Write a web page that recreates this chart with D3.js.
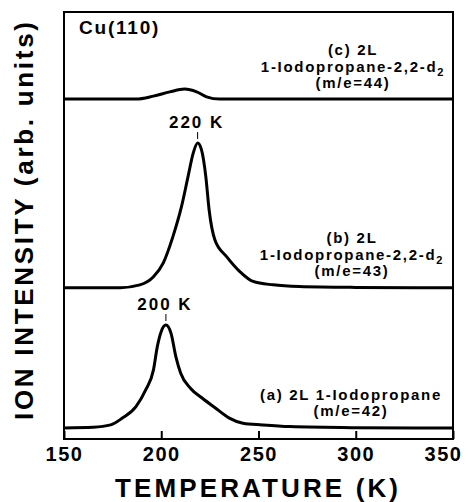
<!DOCTYPE html>
<html>
<head>
<meta charset="utf-8">
<script src="https://cdn.jsdelivr.net/npm/d3@7"></script>
<style>
  body { margin: 0; background: #fff; }
  svg text { font-family: "Liberation Sans", Arial, Helvetica, sans-serif; font-weight: bold; fill: #000; }
</style>
</head>
<body>
<div id="chart"></div>
<script>
// temperature (K) and ion intensity (arb. units)
var tempA = [150, 165, 174, 180, 187, 192, 196, 198, 200, 202.4, 205, 207.5, 210, 215, 221, 228, 235, 242, 252, 266, 300, 350];
var intA  = [0.1, 0.25, 0.8, 2.4, 5.1, 9.0, 13.7, 19.2, 22.7, 24.2, 22.3, 16.8, 12.9, 9.4, 7.1, 4.7, 2.4, 1.2, 0.8, 0.4, 0.15, 0.05];

var tempB = [150, 170, 179, 189, 196, 201, 206, 210.4, 213.8, 216.4, 218.7, 220.7, 222.9, 224.6, 227.6, 233.6, 240.4, 247.2, 257.5, 271, 300, 350];
var intB  = [0, 0.05, 0.05, 0.7, 2.6, 5.8, 12.0, 19.0, 26.1, 31.5, 33.9, 32.3, 26.1, 18.3, 11.2, 7.3, 3.8, 1.5, 0.7, 0.3, 0.1, 0];

var tempC = [150, 187, 196, 204.4, 212, 218.2, 223.3, 230, 350];
var intC  = [0, 0, 0.7, 1.7, 2.35, 1.7, 0.54, 0, 0];

// vertical offsets of the stacked traces (arb. units)
var offsets = [2.5, 35.4, 79.6];

var xTicks = [150, 200, 250, 300, 350];

var peakTemps  = [202.4, 218.7];
var peakLabels = ["200 K", "220 K"];

var width = 474, height = 502;
var padL = 64, padR = 453, padT = 12, padB = 439;

var svg = d3.select("#chart").append("svg")
	.attr("width", width)
	.attr("height", height);

var x = d3.scaleLinear().domain([150, 350]).range([padL, padR]);
var y = d3.scaleLinear().domain([0, 100]).range([padB, padT]);

// frame
svg.append("rect")
	.attr("x", padL)
	.attr("y", padT)
	.attr("width", padR - padL)
	.attr("height", padB - padT)
	.style("fill", "none")
	.style("stroke", "#000")
	.style("stroke-width", 2);

// x axis with inward ticks
var xAxis = d3.axisBottom(x)
	.tickValues(xTicks)
	.tickSizeInner(-8)
	.tickSizeOuter(0)
	.tickPadding(14)
	.tickFormat(d3.format("d"));

var gx = svg.append("g")
	.attr("transform", "translate(0," + padB + ")")
	.call(xAxis);
gx.select(".domain").remove();
gx.selectAll(".tick line").style("stroke", "#000").style("stroke-width", 2);
gx.selectAll(".tick text")
	.style("font-size", "20px")
	.style("letter-spacing", "1.5px")
	.attr("y", 8)
	.attr("dy", "0.71em")
	.attr("dx", function(d) { return d == 350 ? -10 : 0; });

// traces
var line = d3.line()
	.x(function(d) { return x(d[0]); })
	.y(function(d) { return y(d[1]); })
	.curve(d3.curveMonotoneX);

function addTrace(temps, ints, off) {
	var pts = temps.map(function(t, i) { return [t, ints[i] + off]; });
	svg.append("path")
		.attr("d", line(pts))
		.style("fill", "none")
		.style("stroke", "#000")
		.style("stroke-width", 3)
		.style("stroke-linejoin", "round");
}
addTrace(tempA, intA, offsets[0]);
addTrace(tempB, intB, offsets[1]);
addTrace(tempC, intC, offsets[2]);

// peak markers
var peakTops = [d3.max(intA) + offsets[0], d3.max(intB) + offsets[1]];
for (var i = 0; i < peakTemps.length; i++) {
	var px = x(peakTemps[i]);
	var py = y(peakTops[i]);
	svg.append("line")
		.attr("x1", px).attr("x2", px)
		.attr("y1", py - 4).attr("y2", py - 11)
		.style("stroke", "#000")
		.style("stroke-width", 1);
	svg.append("text")
		.attr("x", px - 1)
		.attr("y", py - 15)
		.attr("text-anchor", "middle")
		.style("font-size", "17px")
		.style("letter-spacing", "2px")
		.style("white-space", "pre")
		.text(peakLabels[i]);
}

// labels
function label(lines, cx, y0, dy) {
	lines.forEach(function(l, i) {
		var t = svg.append("text")
			.attr("x", cx)
			.attr("y", y0 + i * dy)
			.attr("text-anchor", "middle")
			.style("font-size", "15px")
			.style("letter-spacing", "1.7px");
		t.append("tspan").text(l[0]);
		if (l[1]) {
			t.append("tspan")
				.attr("dy", 4)
				.style("font-size", "11px")
				.text(l[1]);
		}
	});
}

svg.append("text")
	.attr("x", 79)
	.attr("y", 34)
	.style("font-size", "19px")
	.style("letter-spacing", "1.8px")
	.text("Cu(110)");

label([["(c) 2L"], ["1-Iodopropane-2,2-d", "2"], ["(m/e=44)"]], 353, 55, 16.5);
label([["(b) 2L"], ["1-Iodopropane-2,2-d", "2"], ["(m/e=43)"]], 352, 243, 16.7);
label([["(a) 2L 1-Iodopropane"], ["(m/e=42)"]], 351, 399.5, 16);

// axis titles
svg.append("text")
	.attr("x", 256.5)
	.attr("y", 497)
	.attr("text-anchor", "middle")
	.attr("textLength", 283)
	.attr("lengthAdjust", "spacing")
	.style("font-size", "26px")
	.text("TEMPERATURE (K)");

svg.append("text")
	.attr("transform", "translate(33,221) rotate(-90)")
	.attr("text-anchor", "middle")
	.attr("textLength", 398)
	.attr("lengthAdjust", "spacing")
	.style("font-size", "26px")
	.text("ION INTENSITY (arb. units)");
</script>
</body>
</html>
